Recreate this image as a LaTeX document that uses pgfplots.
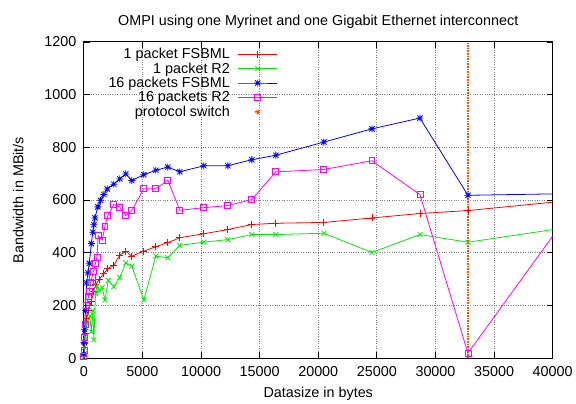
\documentclass[border=0pt]{standalone}
\usepackage{pgfplots}
\pgfplotsset{compat=1.18}
\usepackage{fontspec}
\setmainfont{Liberation Sans}
\definecolor{gpred}{RGB}{255,0,0}
\definecolor{gpgreen}{RGB}{0,235,0}
\definecolor{gpblue}{RGB}{0,0,255}
\definecolor{gpmag}{RGB}{255,0,255}
\definecolor{gporange}{RGB}{255,80,0}
\pgfdeclareplotmark{plusx}{%
  \pgfpathmoveto{\pgfqpoint{-\pgfplotmarksize}{0pt}}%
  \pgfpathlineto{\pgfqpoint{\pgfplotmarksize}{0pt}}%
  \pgfpathmoveto{\pgfqpoint{0pt}{-\pgfplotmarksize}}%
  \pgfpathlineto{\pgfqpoint{0pt}{\pgfplotmarksize}}%
  \pgfpathmoveto{\pgfqpoint{-0.75\pgfplotmarksize}{-0.75\pgfplotmarksize}}%
  \pgfpathlineto{\pgfqpoint{0.75\pgfplotmarksize}{0.75\pgfplotmarksize}}%
  \pgfpathmoveto{\pgfqpoint{-0.75\pgfplotmarksize}{0.75\pgfplotmarksize}}%
  \pgfpathlineto{\pgfqpoint{0.75\pgfplotmarksize}{-0.75\pgfplotmarksize}}%
  \pgfusepathqstroke}
\begin{document}
\begin{tikzpicture}
\begin{axis}[
  name=ax,
  scale only axis, width=470bp, height=317bp,
  xmin=0, xmax=40000, ymin=0, ymax=1200,
  xtick={0,5000,...,40000}, ytick={0,200,...,1200},
  scaled x ticks=false,
  xticklabel style={/pgf/number format/1000 sep={}, yshift=-5bp},
  yticklabel style={/pgf/number format/1000 sep={}, xshift=-4bp},
  /pgf/number format/assume math mode=true,
  font=\fontsize{14.4bp}{16bp}\selectfont,
  grid=major, major grid style={dotted, gray, line width=0.9bp},
  tick align=inside, major tick length=6bp,
  every tick/.style={black, line width=0.8bp},
  axis line style={line width=1bp},
  title={OMPI using one Myrinet and one Gigabit Ethernet interconnect},
  title style={yshift=4bp},
  xlabel={Datasize in bytes},
  xlabel style={yshift=-3bp},
  ylabel={Bandwidth in MBit/s},
  ylabel shift=14bp,
  legend cell align=right,
  legend plot pos=right,
  legend style={draw=none, fill=none, at={(axis description cs:0.42,0.993)}, anchor=north east,
    font=\fontsize{14.4bp}{14bp}\selectfont, row sep=-1.5bp,
    /tikz/every odd column/.style={column sep=6bp}},
  legend image code/.code={\draw[mark repeat=2,mark phase=2] plot coordinates {(0bp,0bp)(19.5bp,0bp)(39bp,0bp)};},
  every axis plot/.append style={line width=0.8bp},
]
\addplot[gpred, mark=+, mark size=3.5bp] coordinates {
(8,10)(64,55)(128,95)(256,150)(384,180)(512,200)(640,215)(836,252)(1030,280)(1320,299)(1690,320)(2048,340)(2560,352)(3072,391)(3584,406)(4096,387)(5120,406)(6144,423)(7168,438)(8192,457)(10240,472)(12288,488)(14336,507)(16384,512)(20480,515)(24576,532)(28672,549)(32768,560)(40960,596)};
\addlegendentry{1 packet FSBML}
\addplot[gpgreen, mark=x, mark size=3.5bp] coordinates {
(8,5)(64,40)(128,80)(256,130)(512,160)(640,100)(768,180)(860,70)(1000,246)(1120,274)(1320,255)(1570,268)(1800,221)(2090,295)(2560,271)(3072,307)(3584,362)(4096,349)(5120,221)(6144,387)(7168,381)(8192,428)(10240,440)(12288,450)(14336,469)(16384,469)(20480,474)(24576,401)(28672,469)(32768,440)(40960,494)};
\addlegendentry{1 packet R2}
\addplot[gpblue, mark=plusx, mark size=3.5bp] coordinates {
(8,15)(32,60)(64,110)(128,180)(240,286)(350,324)(470,360)(640,435)(776,478)(861,506)(946,532)(1200,574)(1430,599)(1710,621)(2000,642)(2560,660)(3072,680)(3584,699)(4096,674)(5120,696)(6144,713)(7168,725)(8192,707)(10240,730)(12288,730)(14336,753)(16384,770)(20480,820)(24576,870)(28672,911)(32768,618)(40960,624)};
\addlegendentry{16 packets FSBML}
\addplot[gpmag, mark=square, mark size=3bp] coordinates {
(4,5)(16,30)(64,80)(128,130)(256,200)(410,236)(467,255)(580,286)(694,305)(836,330)(978,358)(1120,383)(1230,465)(1570,448)(1800,501)(2048,541)(2560,583)(3072,573)(3584,541)(4096,560)(5120,643)(6144,643)(7168,675)(8192,561)(10240,571)(12288,579)(14336,602)(16384,707)(20480,716)(24576,749)(28672,621)(32768,19)(40960,522)};
\addlegendentry{16 packets R2}
\addplot[gporange, line width=2.4bp, dash pattern=on 1.6bp off 1bp,
  legend image code/.code={\fill[gporange] (19.5bp,0bp) circle (1.3bp);}] coordinates {(32768,0)(32768,1200)};
\addlegendentry{protocol switch}
\end{axis}
\path (ax.south west) ++(-84bp,-41bp) coordinate (bl);
\path (ax.north east) ++(22bp,42bp) coordinate (tr);
\path (bl) (tr);
\end{tikzpicture}
\end{document}
